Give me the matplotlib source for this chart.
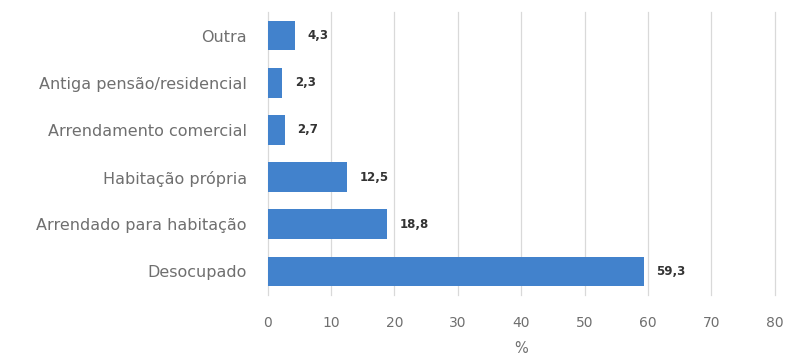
import matplotlib.pyplot as plt

categorias = ['Desocupado', 'Arrendado para habitação', 'Habitação própria',
              'Arrendamento comercial', 'Antiga pensão/residencial', 'Outra']
valores = [59.3, 18.8, 12.5, 2.7, 2.3, 4.3]
rotulos = ['59,3', '18,8', '12,5', '2,7', '2,3', '4,3']
ticks_x = [0, 10, 20, 30, 40, 50, 60, 70, 80]

plt.rcParams['font.family'] = ['DejaVu Sans']

fig = plt.figure(figsize=(7.85, 3.62), dpi=100)
ax = fig.add_axes([0.341, 0.185, 0.646, 0.782])

pos = list(range(len(categorias)))
ax.barh(pos, valores, height=0.63, color='#4282cc', zorder=3)

# rótulos de dados à direita de cada barra
for y, v, txt in zip(pos, valores, rotulos):
    ax.text(v + 2.0, y, txt, va='center', ha='left', fontsize=8.5,
            color='#333333', fontweight='semibold')

ax.set_xlim(0, 80)
ax.set_ylim(-0.5, 5.5)
ax.set_xticks(ticks_x)
ax.set_yticks(pos)
ax.set_yticklabels(categorias)
ax.grid(axis='x', color='#d9d9d9', linewidth=0.9, zorder=0, clip_on=False)
for s in ax.spines.values():
    s.set_visible(False)
ax.tick_params(length=0, colors='#6f6f6f', labelsize=11.5)
ax.tick_params(axis='x', pad=15, labelsize=10)
ax.tick_params(axis='y', pad=15)
ax.set_xlabel('%', color='#6f6f6f', fontsize=10.5, labelpad=8)

fig.savefig('out.png', dpi=100)
